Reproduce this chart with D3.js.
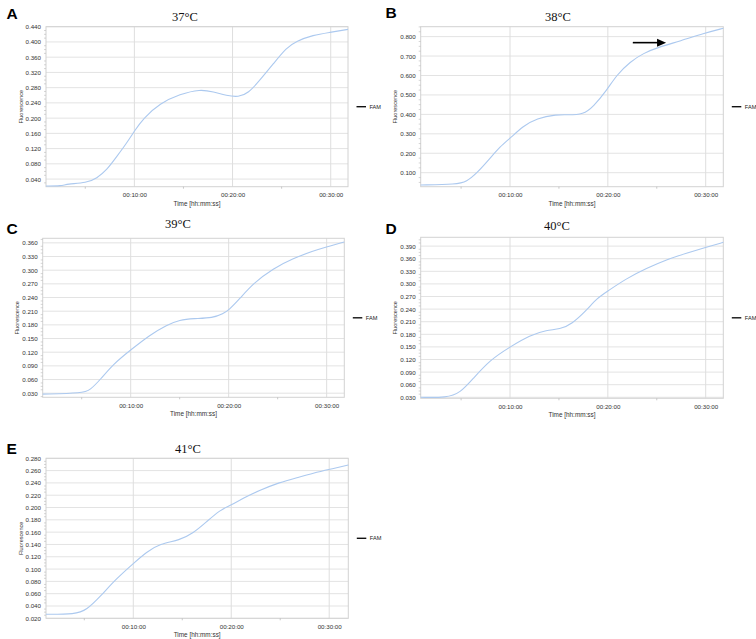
<!DOCTYPE html>
<html>
<head>
<meta charset="utf-8">
<script src="https://cdn.jsdelivr.net/npm/d3@7"></script>
<style>
  body { margin: 0; background: #fff; }
  svg { display: block; }
</style>
</head>
<body>
<div id="chart"></div>
<script>

// time in minutes, fluorescence values
var timeA = [1.0, 2.6, 3.1, 5.15, 6.17, 7.19, 8.2, 9.2, 10, 10.9, 12.6, 14.65, 16.7, 18.05, 19.4, 20.6, 21.6, 22.8, 24.2, 25.5, 26.5, 28.2, 29.9, 31.76];
var fluoA = [0.022, 0.022, 0.027, 0.030, 0.042, 0.064, 0.099, 0.134, 0.166, 0.199, 0.239, 0.263, 0.276, 0.269, 0.259, 0.255, 0.265, 0.300, 0.344, 0.385, 0.402, 0.418, 0.425, 0.433];

var timeB = [0.87, 4.55, 5.57, 6.6, 7.96, 8.98, 10, 11.36, 12.7, 14.8, 15.9, 17.5, 18.5, 19.9, 20.9, 22.3, 23.6, 25.3, 27.4, 29.8, 31.8];
var fluoB = [0.037, 0.040, 0.054, 0.097, 0.174, 0.234, 0.277, 0.340, 0.380, 0.400, 0.397, 0.400, 0.439, 0.525, 0.603, 0.671, 0.714, 0.748, 0.777, 0.817, 0.843];

var timeC = [1.02, 5.16, 5.85, 6.87, 8.22, 10, 11.97, 13.7, 15.0, 16.4, 18.4, 19.45, 20, 21.15, 22.5, 24.55, 26.6, 28.6, 30, 31.8];
var fluoC = [0.028, 0.030, 0.037, 0.059, 0.094, 0.125, 0.158, 0.180, 0.191, 0.194, 0.195, 0.205, 0.212, 0.238, 0.271, 0.304, 0.326, 0.342, 0.351, 0.362];

var timeD = [0.87, 3.5, 4.9, 6.24, 7.95, 10, 12.05, 13.75, 15.1, 16.3, 17.85, 18.9, 20, 21.9, 23.95, 26, 28.05, 30, 31.8];
var fluoD = [0.030, 0.029, 0.040, 0.075, 0.119, 0.150, 0.178, 0.190, 0.192, 0.204, 0.238, 0.266, 0.283, 0.313, 0.337, 0.358, 0.373, 0.387, 0.399];

var timeE = [1.09, 4.05, 5.24, 6.6, 8.3, 10, 11.37, 12.7, 14.75, 16.1, 17.5, 18.85, 20, 21.2, 22.9, 24.95, 26.7, 28.4, 30, 31.95];
var fluoE = [0.0265, 0.0265, 0.0335, 0.055, 0.085, 0.109, 0.128, 0.141, 0.147, 0.158, 0.177, 0.196, 0.204, 0.215, 0.228, 0.241, 0.2485, 0.256, 0.262, 0.269];

var titles = ["37°C", "38°C", "39°C", "40°C", "41°C"];
var panelLetters = ["A", "B", "C", "D", "E"];
var seriesName = "FAM";

var xTickValues = [10, 20, 30];
var xTickLabels = ["00:10:00", "00:20:00", "00:30:00"];
var xMinorTicks = [5, 15, 25];

var yTicksA = [0.040, 0.080, 0.120, 0.160, 0.200, 0.240, 0.280, 0.320, 0.360, 0.400, 0.440];
var yTicksB = [0.100, 0.200, 0.300, 0.400, 0.500, 0.600, 0.700, 0.800];
var yTicksC = [0.030, 0.060, 0.090, 0.120, 0.150, 0.180, 0.210, 0.240, 0.270, 0.300, 0.330, 0.360];
var yTicksD = [0.030, 0.060, 0.090, 0.120, 0.150, 0.180, 0.210, 0.240, 0.270, 0.300, 0.330, 0.360, 0.390];
var yTicksE = [0.020, 0.040, 0.060, 0.080, 0.100, 0.120, 0.140, 0.160, 0.180, 0.200, 0.220, 0.240, 0.260, 0.280];

// arrow annotation in panel B (minutes / fluorescence)
var arrowB = { x1: 22.55, x2: 25.95, y: 0.769 };


/*
 * AmpChart - one amplification plot
 */
AmpChart = function(_svg, _data, _cfg){
    this.svg = _svg;
    this.data = _data;
    this.cfg = _cfg;

    this.initVis();
}

AmpChart.prototype.initVis = function() {
    var vis = this;
    var c = vis.cfg;

    vis.width = c.w;
    vis.height = c.h;

    vis.g = vis.svg.append("g")
      .attr("transform", "translate(" + c.left + "," + c.top + ")");

    vis.x = d3.scaleLinear().domain(c.xDomain).range([0, vis.width]);
    vis.y = d3.scaleLinear().domain(c.yDomain).range([vis.height, 0]);

    // horizontal grid
    vis.g.selectAll(".hgrid")
      .data(c.yTicks)
      .enter()
      .append("line")
      .attr("x1", 0)
      .attr("x2", vis.width)
      .attr("y1", function(d){ return vis.y(d); })
      .attr("y2", function(d){ return vis.y(d); })
      .attr("stroke", "#e3e3e3")
      .attr("stroke-width", 1);

    // vertical grid
    vis.g.selectAll(".vgrid")
      .data(xTickValues)
      .enter()
      .append("line")
      .attr("x1", function(d){ return vis.x(d); })
      .attr("x2", function(d){ return vis.x(d); })
      .attr("y1", 0)
      .attr("y2", vis.height)
      .attr("stroke", "#dedede")
      .attr("stroke-width", 1);

    // frame
    vis.g.append("rect")
      .attr("width", vis.width)
      .attr("height", vis.height)
      .attr("fill", "none")
      .attr("stroke", "#d2d2d2")
      .attr("stroke-width", 1);

    // y axis labels + minor ticks
    var yAxis = d3.axisLeft(vis.y)
      .tickValues(c.yTicks)
      .tickSize(0)
      .tickPadding(5)
      .tickFormat(d3.format(".3f"));
    var ya = vis.g.append("g").call(yAxis);
    ya.select(".domain").remove();
    ya.selectAll("text")
      .attr("font-family", "Liberation Sans, Arial, sans-serif")
      .attr("font-size", 6.2)
      .attr("fill", "#333");

    var step = c.yTicks[1] - c.yTicks[0];
    var minor = [];
    for (var i = 0; i < c.yTicks.length + 1; i++) {
      for (var k = 1; k < 4; k++) {
        var v = c.yTicks[0] - step + i * step + k * step / 4;
        if (v > c.yDomain[0] && v < c.yDomain[1]) minor.push(v);
      }
    }
    vis.g.selectAll(".yminor")
      .data(minor)
      .enter()
      .append("line")
      .attr("x1", -2)
      .attr("x2", 0)
      .attr("y1", function(d){ return vis.y(d); })
      .attr("y2", function(d){ return vis.y(d); })
      .attr("stroke", "#bbb")
      .attr("stroke-width", 0.6);

    // x axis labels
    var xAxis = d3.axisBottom(vis.x)
      .tickValues(xTickValues)
      .tickSize(0)
      .tickPadding(6)
      .tickFormat(function(d, i){ return xTickLabels[i]; });
    var xa = vis.g.append("g")
      .attr("transform", "translate(0," + vis.height + ")")
      .call(xAxis);
    xa.select(".domain").remove();
    xa.selectAll("text")
      .attr("font-family", "Liberation Sans, Arial, sans-serif")
      .attr("font-size", 6.2)
      .attr("fill", "#333");

    vis.g.selectAll(".xminor")
      .data(xMinorTicks)
      .enter()
      .append("line")
      .attr("x1", function(d){ return vis.x(d); })
      .attr("x2", function(d){ return vis.x(d); })
      .attr("y1", vis.height)
      .attr("y2", vis.height + 2)
      .attr("stroke", "#bbb")
      .attr("stroke-width", 0.8);

    // axis titles
    vis.g.append("text")
      .attr("x", vis.width / 2)
      .attr("y", vis.height + 19)
      .attr("text-anchor", "middle")
      .attr("font-family", "Liberation Sans, Arial, sans-serif")
      .attr("font-size", 6.4)
      .attr("fill", "#333")
      .text("Time [hh:mm:ss]");

    vis.g.append("text")
      .attr("transform", "translate(-23.5," + (vis.height / 2) + ") rotate(-90)")
      .attr("text-anchor", "middle")
      .attr("font-family", "Liberation Sans, Arial, sans-serif")
      .attr("font-size", 5.6)
      .attr("fill", "#333")
      .text("Fluorescence");

    // curve
    vis.line = d3.line()
      .x(function(d){ return vis.x(d.t); })
      .y(function(d){ return vis.y(d.f); })
      .curve(d3.curveBasis);

    vis.g.append("path")
      .datum(vis.data)
      .attr("d", vis.line)
      .attr("fill", "none")
      .attr("stroke", "#acc9ef")
      .attr("stroke-width", 1.1);

    // legend
    vis.legend = vis.g.append("g")
      .attr("transform", "translate(" + (vis.width + 8.5) + "," + (vis.height / 2) + ")");
    vis.legend.append("line")
      .attr("x1", 0)
      .attr("x2", 9.5)
      .attr("stroke", "#111")
      .attr("stroke-width", 1.4);
    vis.legend.append("text")
      .attr("x", 13)
      .attr("y", 2)
      .attr("font-family", "Liberation Sans, Arial, sans-serif")
      .attr("font-size", 5.6)
      .attr("fill", "#222")
      .text(seriesName);

    // title + panel letter
    vis.svg.append("text")
      .attr("x", c.titleX)
      .attr("y", c.titleY)
      .attr("text-anchor", "middle")
      .attr("font-family", "Liberation Serif, Times New Roman, serif")
      .attr("font-size", 12.5)
      .attr("fill", "#111")
      .text(c.title);

    vis.svg.append("text")
      .attr("x", c.letterX)
      .attr("y", c.letterY)
      .attr("font-family", "Liberation Sans, Arial, sans-serif")
      .attr("font-weight", "bold")
      .attr("font-size", 15.5)
      .attr("fill", "#000")
      .text(c.letter);
};

AmpChart.prototype.addArrow = function(a) {
    var vis = this;
    vis.g.append("line")
      .attr("x1", vis.x(a.x1))
      .attr("x2", vis.x(a.x2) - 7)
      .attr("y1", vis.y(a.y))
      .attr("y2", vis.y(a.y))
      .attr("stroke", "#000")
      .attr("stroke-width", 1.6);
    var tx = vis.x(a.x2), ty = vis.y(a.y);
    vis.g.append("path")
      .attr("d", "M" + tx + "," + ty + "L" + (tx - 9) + "," + (ty - 4) + "L" + (tx - 9) + "," + (ty + 4) + "Z")
      .attr("fill", "#000");
};


function zip(ts, fs) {
    return ts.map(function(t, i){ return { t: t, f: fs[i] }; });
}

var svg = d3.select("#chart")
  .append("svg")
  .attr("width", 756)
  .attr("height", 639);

var panels = [
  { t: timeA, f: fluoA, yTicks: yTicksA, yDomain: [0.020, 0.440], xDomain: [1.0, 31.76],
    left: 46, top: 26.7, w: 302, h: 160, titleX: 185, titleY: 20.5, letterX: 6.5, letterY: 18.5 },
  { t: timeB, f: fluoB, yTicks: yTicksB, yDomain: [0.028, 0.851], xDomain: [0.87, 31.8],
    left: 420.7, top: 26.7, w: 302.6, h: 160, titleX: 558, titleY: 20.5, letterX: 385.5, letterY: 18 },
  { t: timeC, f: fluoC, yTicks: yTicksC, yDomain: [0.021, 0.370], xDomain: [1.02, 31.8],
    left: 42.7, top: 238.3, w: 301.6, h: 159, titleX: 178, titleY: 227.5, letterX: 6.5, letterY: 234 },
  { t: timeD, f: fluoD, yTicks: yTicksD, yDomain: [0.0276, 0.411], xDomain: [0.87, 31.8],
    left: 420.7, top: 237.3, w: 302.6, h: 161, titleX: 557, titleY: 229.5, letterX: 385.5, letterY: 234 },
  { t: timeE, f: fluoE, yTicks: yTicksE, yDomain: [0.020, 0.280], xDomain: [1.09, 31.95],
    left: 46, top: 458.3, w: 302.3, h: 160, titleX: 188, titleY: 453, letterX: 6.5, letterY: 453.5 }
];

var charts = panels.map(function(p, i){
    p.title = titles[i];
    p.letter = panelLetters[i];
    return new AmpChart(svg, zip(p.t, p.f), p);
});

charts[1].addArrow(arrowB);

</script>
</body>
</html>
